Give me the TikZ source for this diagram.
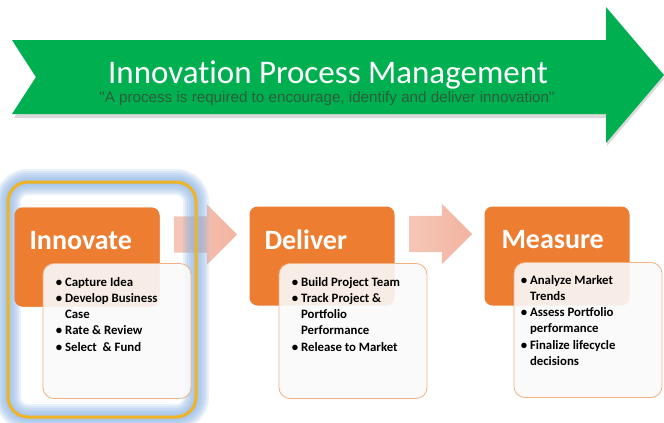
\documentclass[tikz,border=0pt]{standalone}
\usepackage{fontspec}
\setmainfont{Carlito}
\newfontfamily\titlefont[Ligatures=NoCommon]{Carlito}
\newfontfamily\quotefont{Liberation Sans}
\usetikzlibrary{shapes, arrows, positioning, calc}

\definecolor{banner}{HTML}{00B050}
\definecolor{phaseorange}{HTML}{ED7D31}
\definecolor{listedge}{HTML}{F4B183}
\definecolor{listfill}{HTML}{FAFAFA}
\definecolor{flowpink}{HTML}{F2B4A0}
\definecolor{glowblue}{HTML}{8DB4E2}
\definecolor{framegold}{HTML}{F0B323}
\definecolor{quotegrey}{HTML}{2D5E3A}

\begin{document}
\begin{tikzpicture}[x=1pt, y=-1pt,
  phase/.style={rectangle, rounded corners=8pt, fill=phaseorange, minimum width=145pt, minimum height=99pt},
  phasetitle/.style={anchor=west, inner sep=0pt, text=white, font=\bfseries\fontsize{28}{30}\selectfont},
  tasklist/.style={rectangle, rounded corners=11pt, draw=listedge, line width=0.8pt, fill=listfill, fill opacity=0.9, minimum width=148pt, minimum height=135pt},
  tasks/.style={anchor=north west, align=left, inner sep=0pt, font=\bfseries\fontsize{12.8}{16.2}\selectfont},
  flow/.style={single arrow, single arrow head extend=12pt, inner xsep=0pt, inner ysep=18pt, minimum height=63pt, left color=flowpink!75, right color=flowpink}]
\useasboundingbox (0,0) rectangle (664,423);

% banner
\fill[black, opacity=0.15] (14,44) -- (607,44) -- (607,12) -- (664,79) -- (607,146) -- (607,118) -- (14,118) -- (38,81) -- cycle;
\fill[banner] (12,40) -- (606,40) -- (606,7) -- (664,75) -- (606,143) -- (606,114) -- (12,114) -- (36,77) -- cycle;
\node[text=white, font=\titlefont\fontsize{33}{35}\selectfont] (title) at (328,75) {Innovation Process Management};
\node[text=quotegrey, font=\quotefont\fontsize{15.2}{17}\selectfont, inner sep=0pt] (motto) at (327,99) {"A process is required to encourage, identify and deliver innovation"};

% phases
\node[phase] (innovate) at (87,257) {};
\node[phase] (deliver) at (322,256) {};
\node[phase] (measure) at (557,256) {};

% flow arrows
\node[flow] (flowa) at ($($(innovate.east)!0.5!(deliver.west)$)+(-8,-22)$) {};
\node[flow] (flowb) at ($($(deliver.east)!0.5!(measure.west)$)+(-8,-22)$) {};

% highlight round the first phase
\foreach \w in {26,22,18,14,10,6}
  \draw[glowblue, line width=\w pt, opacity=0.2, rounded corners=20pt] (8,182) rectangle (196,417);
\draw[framegold, line width=3pt, rounded corners=20pt] (8,182) rectangle (196,417);
\node[phase] at (innovate) {};

\node[phasetitle] at ($(innovate.west)+(15,-16)$) {Innovate};
\node[phasetitle] at ($(deliver.west)+(15,-16)$) {Deliver};
\node[phasetitle] at ($(measure.west)+(17,-16)$) {Measure};

\node[tasklist] (innovatelist) at (117,331) {};
\node[tasklist] (deliverlist) at (353,331) {};
\node[tasklist] (measurelist) at (588,330) {};

\node[tasks] at ($(innovatelist.north west)+(13,14)$)
  {\textbullet\ Capture Idea\\\textbullet\ Develop Business\\\hphantom{\textbullet\ }Case\\\textbullet\ Rate \& Review\\\textbullet\ Select\ \ \& Fund};
\node[tasks] at ($(deliverlist.north west)+(13,14)$)
  {\textbullet\ Build Project Team\\\textbullet\ Track Project \&\\\hphantom{\textbullet\ }Portfolio\\\hphantom{\textbullet\ }Performance\\\textbullet\ Release to Market};
\node[tasks] at ($(measurelist.north west)+(7,13)$)
  {\textbullet\ Analyze Market\\\hphantom{\textbullet\ }Trends\\\textbullet\ Assess Portfolio\\\hphantom{\textbullet\ }performance\\\textbullet\ Finalize lifecycle\\\hphantom{\textbullet\ }decisions};
\end{tikzpicture}
\end{document}
